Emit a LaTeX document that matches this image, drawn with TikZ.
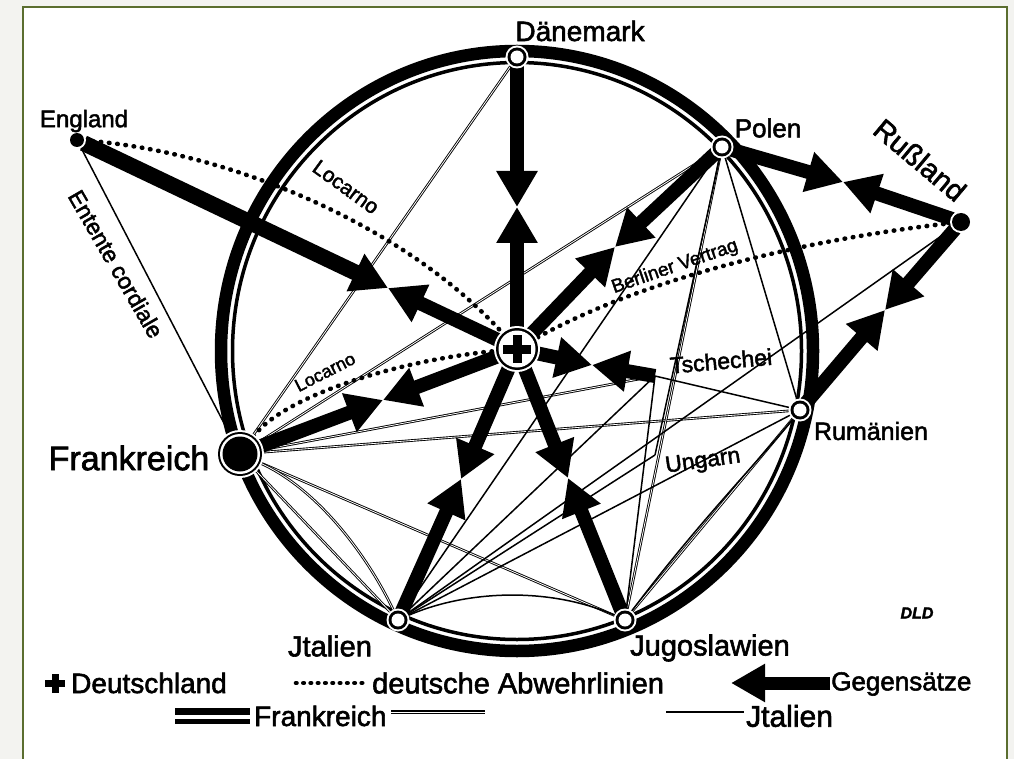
\documentclass[tikz,border=0pt]{standalone}
\usepackage{fontspec}
\setmainfont{Liberation Sans}[FakeBold=2]
\usetikzlibrary{arrows.meta}
\pgfdeclarelayer{ringl}
\pgfdeclarelayer{linel}
\pgfsetlayers{ringl,linel,main}
\definecolor{bggray}{HTML}{F3F3F0}
\definecolor{frame}{HTML}{5B6E2F}
\tikzset{
  pt/.style={circle,inner sep=0pt,minimum size=#1},
  frl/.style={line width=0.9pt,double=white,double distance=0.8pt},
  itl/.style={line width=1.5pt},
  dotl/.style={line width=4.6pt,dash pattern=on 0.5pt off 7.8pt,line cap=round},
  garrow/.style={line width=14pt,-{Triangle[length=36pt,width=39pt]}},
  lab/.style={inner sep=0pt,font=\fontsize{#1}{#1}\selectfont},
}
\begin{document}
\begin{tikzpicture}[x=1pt,y=-1pt]
\useasboundingbox (0,0) rectangle (1014,759);
% named points
\node[pt=18pt] (dan) at (517,57) {};
\node[pt=14pt] (eng) at (77,140) {};
\node[pt=18pt] (pol) at (722,147) {};
\node[pt=18pt] (rus) at (961,222) {};
\node[pt=44pt] (fra) at (240,454) {};
\node[pt=18pt] (rum) at (800,410) {};
\node[pt=18pt] (ita) at (398,620) {};
\node[pt=18pt] (jug) at (625,620) {};
\node[pt=42pt] (ger) at (517,349) {};
\coordinate (tsch) at (655,376);
\coordinate (ung) at (655,455);
\coordinate (Xd) at (517,207);
\coordinate (Xe) at (388,288);
\coordinate (Xp) at (615,247);
\coordinate (Xr) at (843,182);
\coordinate (Xru) at (885,310);
\coordinate (Xt) at (592,365);
\coordinate (Xf) at (383,400);
\coordinate (Xi) at (461,479);
\coordinate (Xj) at (568,478);

\begin{pgfonlayer}{ringl}
\fill[bggray] (0,0) rectangle (1014,759);
\fill[white] (23,7) rectangle (1007,759);
\draw[frame,line width=2pt] (23,759) -- (23,7) -- (1007,7) -- (1007,759);
\draw[line width=12.5pt] (517,351) ellipse [x radius=296, y radius=300];
\draw[line width=3.5pt] (517,351) ellipse [x radius=284.5, y radius=288.5];
\end{pgfonlayer}

\begin{pgfonlayer}{linel}
% Frankreich lines
\draw[frl] (fra) -- (dan);
\draw[frl] (fra) -- (pol);
\draw[frl] (fra) -- (tsch);
\draw[frl] (fra) -- (rum);
\draw[frl] (fra) -- (jug);
\draw[frl] (fra) -- (ita);
\draw[frl] (fra) .. controls (320,490) and (370,560) .. (ita);
\draw[frl] (jug) -- (pol);
\draw[frl] (jug) -- (rum);
% Italien lines
\draw[itl] (eng) -- (fra);
\draw[itl] (ita) -- (pol);
\draw[itl] (ita) -- (tsch);
\draw[itl] (ita) -- (rus);
\draw[itl] (ita) -- (rum);
\draw[itl] (ita) -- (ung);
\draw[itl] (ita) .. controls (470,588) and (555,588) .. (jug);
\draw[itl] (jug) -- (tsch);
\draw[itl] (jug) .. controls (700,520) and (760,460) .. (rum);
\draw[itl] (pol) -- (rum);
\draw[itl] (pol) -- (ung);
\draw[itl] (tsch) -- (rum);
% dotted defence lines
\draw[dotl] (eng) .. controls (220,150) and (400,220) .. (ger);
\draw[dotl] (fra) .. controls (285,395) and (400,360) .. (ger);
\draw[dotl] (rus) .. controls (800,240) and (640,280) .. (ger);
% opposing arrows
\draw[garrow] (dan) -- (Xd);
\draw[garrow] (ger) -- (Xd);
\draw[garrow,line width=16pt] (eng) -- (Xe);
\draw[garrow] (ger) -- (Xe);
\draw[garrow] (pol) -- (Xp);
\draw[garrow] (ger) -- (Xp);
\draw[garrow] (pol) -- (Xr);
\draw[garrow] (rus) -- (Xr);
\draw[garrow] (rus) -- (Xru);
\draw[garrow] (rum) -- (Xru);
\draw[garrow] (ger) -- (Xt);
\draw[garrow] (tsch) -- (Xt);
\draw[garrow] (fra) -- (Xf);
\draw[garrow] (ger) -- (Xf);
\draw[garrow] (ita) -- (Xi);
\draw[garrow] (ger) -- (Xi);
\draw[garrow] (jug) -- (Xj);
\draw[garrow] (ger) -- (Xj);
\end{pgfonlayer}

% node markers
\foreach \n in {dan,pol,rum,ita,jug}{
  \fill[white] (\n) circle (11.5);
  \fill[black] (\n) circle (9.5);
  \fill[white] (\n) circle (6.5);
}
\fill[white] (eng) circle (9);
\fill[black] (eng) circle (7);
\fill[white] (rus) circle (11);
\fill[black] (rus) circle (9);
\fill[white] (fra) circle (24);
\fill[black] (fra) circle (22);
\fill[white] (fra) circle (20);
\fill[black] (fra) circle (17.5);
\fill[white] (ger) circle (23);
\fill[black] (ger) circle (21);
\fill[white] (ger) circle (18.5);
\fill[shift={(ger.center)}] (-14,-4.5) rectangle (14,4.5);
\fill[shift={(ger.center)}] (-4.5,-14) rectangle (4.5,14);

% labels
\node[lab=28pt] (tdan) at (580,31) {Dänemark};
\node[lab=24pt] (teng) at (84,121) {England};
\node[lab=26pt] (tpol) at (768,128) {Polen};
\node[lab=29pt,rotate=-40] (trus) at (920,160) {Rußland};
\node[lab=34pt] (tfra) at (129,458) {Frankreich};
\node[lab=25pt] (trum) at (871,431) {Rumänien};
\node[lab=29pt] (tita) at (330,646) {Jtalien};
\node[lab=29pt] (tjug) at (710,648) {Jugoslawien};
\node[lab=23pt,rotate=5] (ttsch) at (721,361) {Tschechei};
\node[lab=23pt,rotate=8] (tung) at (703,462) {Ungarn};
\node[lab=19pt,rotate=19] (tber) at (675,267) {Berliner Vertrag};
\node[lab=21pt,rotate=-36] (tloc1) at (346,187) {Locarno};
\node[lab=18pt,rotate=27] (tloc2) at (325,372) {Locarno};
\node[lab=23pt,rotate=-60] (tent) at (116,264) {Entente cordiale};
\node[inner sep=0pt,font=\fontsize{16pt}{16pt}\selectfont\bfseries\itshape] (tdld) at (917,613) {DLD};

% legend
\fill (45,680) rectangle (65,687);
\fill (51.5,674) rectangle (58.5,693);
\node[lab=28pt,anchor=west] (lde) at (71,683) {Deutschland};
\coordinate (ld1) at (296,683);
\coordinate (ld2) at (368,683);
\draw[dotl,line width=4.6pt,dash pattern=on 0.5pt off 6.8pt] (ld1) -- (ld2);
\node[lab=29pt,anchor=west] (lab) at (372,683) {deutsche Abwehrlinien};
\coordinate (lg1) at (830,683);
\coordinate (lg2) at (731,683);
\draw[line width=13pt,-{Triangle[length=34pt,width=36pt]}] (lg1) -- (lg2);
\node[lab=26pt,anchor=west] (lge) at (831,684) {Gegensätze};
\coordinate (lf1) at (175,711);
\coordinate (lf2) at (250,711);
\coordinate (lf3) at (175,721);
\coordinate (lf4) at (250,721);
\draw[line width=7pt] (lf1) -- (lf2);
\draw[line width=5pt] (lf3) -- (lf4);
\node[lab=28pt,anchor=west] (lfr) at (254,716) {Frankreich};
\coordinate (lf5) at (391,712);
\coordinate (lf6) at (485,712);
\draw[line width=1.7pt,double=white,double distance=0.9pt] (lf5) -- (lf6);
\coordinate (li1) at (666,712);
\coordinate (li2) at (744,712);
\draw[itl,line width=2pt] (li1) -- (li2);
\node[lab=30pt,anchor=west] (lit) at (746,716) {Jtalien};
\end{tikzpicture}
\end{document}
